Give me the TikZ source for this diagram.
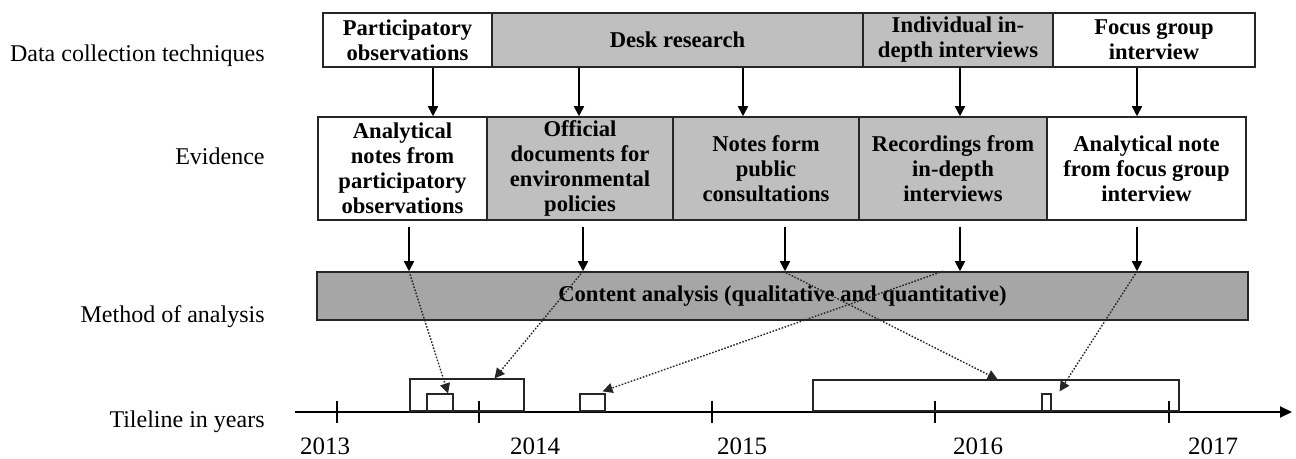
\documentclass[tikz,border=0pt]{standalone}
\usepackage{fontspec}
\setmainfont{Liberation Serif}
\usetikzlibrary{arrows.meta,calc}
\definecolor{deskgray}{RGB}{191,191,191}
\definecolor{contgray}{RGB}{166,166,166}
\begin{document}
\begin{tikzpicture}[x=0.5pt,y=-0.5pt,
  box/.style={draw=black!85, line width=0.75pt, inner sep=0pt, align=center,
    font=\fontsize{11.3}{12.5}\selectfont\bfseries},
  tbox/.style={box, minimum height=27pt},
  ebox/.style={box, minimum height=51.5pt},
  pbox/.style={draw=black!85, line width=0.8pt, inner sep=0pt, anchor=south west},
  lab/.style={font=\fontsize{12}{14}\selectfont, anchor=base east, inner sep=0pt},
  year/.style={font=\fontsize{12.5}{14}\selectfont, anchor=base, inner sep=0pt},
  sarr/.style={line width=0.8pt, -{Triangle[length=5pt,width=5pt]}},
  darr/.style={line width=0.7pt, dash pattern=on 0.8pt off 0.8pt, black!85,
    -{Triangle[length=5pt,width=5pt]}},
  tickline/.style={line width=0.9pt},
]
\useasboundingbox (0,0) rectangle (1296,459);

% row labels
\node[lab] (l1) at (265,62) {Data collection techniques};
\node[lab] (l2) at (265,165) {Evidence};
\node[lab] (l3) at (265,323) {Method of analysis};
\node[lab] (l4) at (265,428) {Tileline in years};

% data collection techniques
\node[tbox, fill=white, minimum width=84.5pt] (dct1) at (407.5,40) {Participatory\\observations};
\node[tbox, fill=deskgray, minimum width=185.5pt] (dct2) at (677.5,40) {Desk research};
\node[tbox, fill=deskgray, minimum width=95pt] (dct3) at (958,40) {Individual in-\\depth interviews};
\node[tbox, fill=white, minimum width=101pt] (dct4) at (1154,40) {Focus group\\interview};

% evidence
\node[ebox, fill=white, minimum width=84.5pt] (ev1) at (402.5,168.5) {Analytical\\notes from\\participatory\\observations};
\node[ebox, fill=deskgray, minimum width=93pt] (ev2) at (580,168.5) {Official\\documents for\\environmental\\policies};
\node[ebox, fill=deskgray, minimum width=93pt] (ev3) at (766,168.5) {Notes form\\public\\consultations};
\node[ebox, fill=deskgray, minimum width=94pt] (ev4) at (953,168.5) {Recordings from\\in-depth\\interviews};
\node[ebox, fill=white, minimum width=99.5pt] (ev5) at (1146.5,168.5) {Analytical note\\from focus group\\interview};

% content analysis
\node[box, fill=contgray, minimum width=465.5pt, minimum height=24pt] (ca) at (782.5,296) {Content analysis (qualitative and quantitative)};

% arrows techniques -> evidence
\foreach \s/\t/\x in {dct1/ev1/433, dct2/ev2/579, dct2/ev3/743, dct3/ev4/960, dct4/ev5/1137}
  \draw[sarr] (\s.south -| \x,0) -- (\t.north -| \x,0);

% arrows evidence -> content analysis
\foreach \s/\x in {ev1/409, ev2/583, ev3/785, ev4/960, ev5/1137}
  \draw[sarr, shorten <=3pt] (\s.south -| \x,0) -- (ca.north -| \x,0);

% timeline
\coordinate (ax0) at (295,412);
\coordinate (ax1) at (1292,412);
\draw[line width=0.9pt, -{Triangle[length=6pt,width=5.5pt]}] (ax0) -- (ax1);
\foreach \x in {337,479,712,935,1169}
  \draw[tickline] (\x,401) -- (\x,423);
\node[year] (y13) at (325,455) {2013};
\node[year] (y14) at (535,455) {2014};
\node[year] (y15) at (742,455) {2015};
\node[year] (y16) at (978,455) {2016};
\node[year] (y17) at (1213,455) {2017};

% periods
\node[pbox, minimum width=57pt, minimum height=16pt] (tb1) at (409,412) {};
\node[pbox, minimum width=13pt, minimum height=8.5pt] (ts1) at (426,412) {};
\node[pbox, minimum width=12.5pt, minimum height=8.5pt] (ts2) at (579,412) {};
\node[pbox, minimum width=183pt, minimum height=15.5pt] (tb2) at (812,412) {};
\node[pbox, minimum width=4.5pt, minimum height=8.5pt] (ts3) at (1041,412) {};

% dotted links
\draw[darr] (ca.north -| 409,0) -- ($(ts1.north west)!0.8!(ts1.north east)$);
\draw[darr] (ca.north -| 583,0) -- ($(tb1.north west)!0.74!(tb1.north east)$);
\draw[darr] (ca.north -| 783,0) -- ($(tb2.north west)!0.505!(tb2.north east)$);
\draw[darr] (ca.north -| 943,0) -- ($(ts2.north east)+(-3,-2)$);
\draw[darr] (ca.north -| 1137,0) -- ($(ts3.north east)+(8,-2)$);
\end{tikzpicture}
\end{document}
